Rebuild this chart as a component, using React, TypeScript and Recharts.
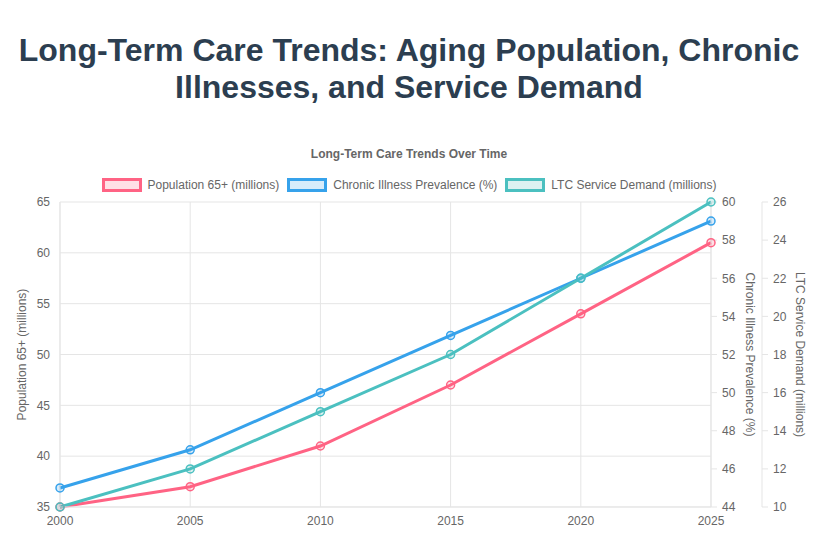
// Long-term care trends — three series on three y axes (Recharts)
import { LineChart, Line, XAxis, YAxis, CartesianGrid } from 'recharts';

const years = ['2000', '2005', '2010', '2015', '2020', '2025'];
const population65 = [35, 37, 41, 47, 54, 61];
const chronicIllness = [45, 47, 50, 53, 56, 59];
const ltcDemand = [10, 12, 15, 18, 22, 26];

const leftTicks = [35, 40, 45, 50, 55, 60, 65];
const chronicTicks = [44, 46, 48, 50, 52, 54, 56, 58, 60];
const demandTicks = [10, 12, 14, 16, 18, 20, 22, 24, 26];

const FONT = '"Liberation Sans", Arial, Helvetica, sans-serif';
const GRID = '#e5e5e5';
const TICK = { fontSize: 12, fill: '#666', fontFamily: FONT };

const SERIES = [
  { key: 'population', name: 'Population 65+ (millions)', axis: 'left', color: '#ff6384', light: 'rgba(255,99,132,0.2)' },
  { key: 'chronic', name: 'Chronic Illness Prevalence (%)', axis: 'chronic', color: '#36a2eb', light: 'rgba(54,162,235,0.2)' },
  { key: 'demand', name: 'LTC Service Demand (millions)', axis: 'demand', color: '#4bc0c0', light: 'rgba(75,192,192,0.2)' },
];

const data = years.map((year, i) => ({
  year,
  population: population65[i],
  chronic: chronicIllness[i],
  demand: ltcDemand[i],
}));

function axisTitle(text: string, dx: number, angle: number) {
  return ({ viewBox }: any) => {
    const cx = viewBox.x + dx;
    const cy = viewBox.y + viewBox.height / 2;
    return (
      <text
        x={cx}
        y={cy}
        transform={`rotate(${angle}, ${cx}, ${cy})`}
        textAnchor="middle"
        dominantBaseline="central"
        fontSize={12}
        fill="#666"
        fontFamily={FONT}
      >
        {text}
      </text>
    );
  };
}

export default function App() {
  return (
    <div style={{ position: 'absolute', left: 0, top: 0, width: 818, height: 542, background: '#fff', fontFamily: FONT }}>
      <div
        style={{
          position: 'absolute', top: 32, left: 0, width: 818, textAlign: 'center',
          fontSize: 32, fontWeight: 'bold', lineHeight: '37px', color: '#2c3e50',
        }}
      >
        Long-Term Care Trends: Aging Population, Chronic<br />Illnesses, and Service Demand
      </div>
      <div
        style={{
          position: 'absolute', top: 147, left: 0, width: 818, textAlign: 'center',
          fontSize: 12, fontWeight: 'bold', color: '#666',
        }}
      >
        Long-Term Care Trends Over Time
      </div>
      <div
        style={{
          position: 'absolute', top: 178, left: 0, width: 818, display: 'flex',
          justifyContent: 'center', gap: 8, fontSize: 12, color: '#666',
        }}
      >
        {SERIES.map((s) => (
          <div key={s.key} style={{ display: 'flex', alignItems: 'center', gap: 6 }}>
            <div style={{ width: 34, height: 8, border: `3px solid ${s.color}`, background: s.light }} />
            <span>{s.name}</span>
          </div>
        ))}
      </div>
      <div style={{ position: 'absolute', left: 0, top: 0 }}>
        <LineChart width={818} height={542} data={data} margin={{ top: 202, right: 6, bottom: 5, left: 0 }}>
          <CartesianGrid yAxisId="left" stroke={GRID} strokeWidth={1} />
          <XAxis
            dataKey="year"
            tick={TICK}
            tickLine={false}
            tickSize={6}
            tickMargin={3}
            height={30}
            stroke={GRID}
            axisLine={{ stroke: GRID }}
          />
          <YAxis
            yAxisId="left"
            orientation="left"
            width={60}
            domain={[35, 65]}
            ticks={leftTicks}
            tick={TICK}
            tickLine={false}
            tickSize={6}
            tickMargin={4}
            axisLine={{ stroke: GRID }}
            label={{ content: axisTitle('Population 65+ (millions)', 22, -90) }}
          />
          <YAxis
            yAxisId="chronic"
            orientation="right"
            width={51}
            domain={[44, 60]}
            ticks={chronicTicks}
            tick={TICK}
            tickLine={{ stroke: GRID }}
            tickSize={6}
            tickMargin={5}
            axisLine={{ stroke: GRID }}
            label={{ content: axisTitle('Chronic Illness Prevalence (%)', 39, 90) }}
          />
          <YAxis
            yAxisId="demand"
            orientation="right"
            width={50}
            domain={[10, 26]}
            ticks={demandTicks}
            tick={TICK}
            tickLine={{ stroke: GRID }}
            tickSize={6}
            tickMargin={5}
            axisLine={{ stroke: GRID }}
            label={{ content: axisTitle('LTC Service Demand (millions)', 38, 90) }}
          />
          {SERIES.map((s) => (
            <Line
              key={s.key}
              yAxisId={s.axis}
              type="linear"
              dataKey={s.key}
              name={s.name}
              stroke={s.color}
              strokeWidth={3}
              dot={{ r: 4, fill: s.light, stroke: s.color, strokeWidth: 1.5 }}
              isAnimationActive={false}
            />
          ))}
        </LineChart>
      </div>
    </div>
  );
}
